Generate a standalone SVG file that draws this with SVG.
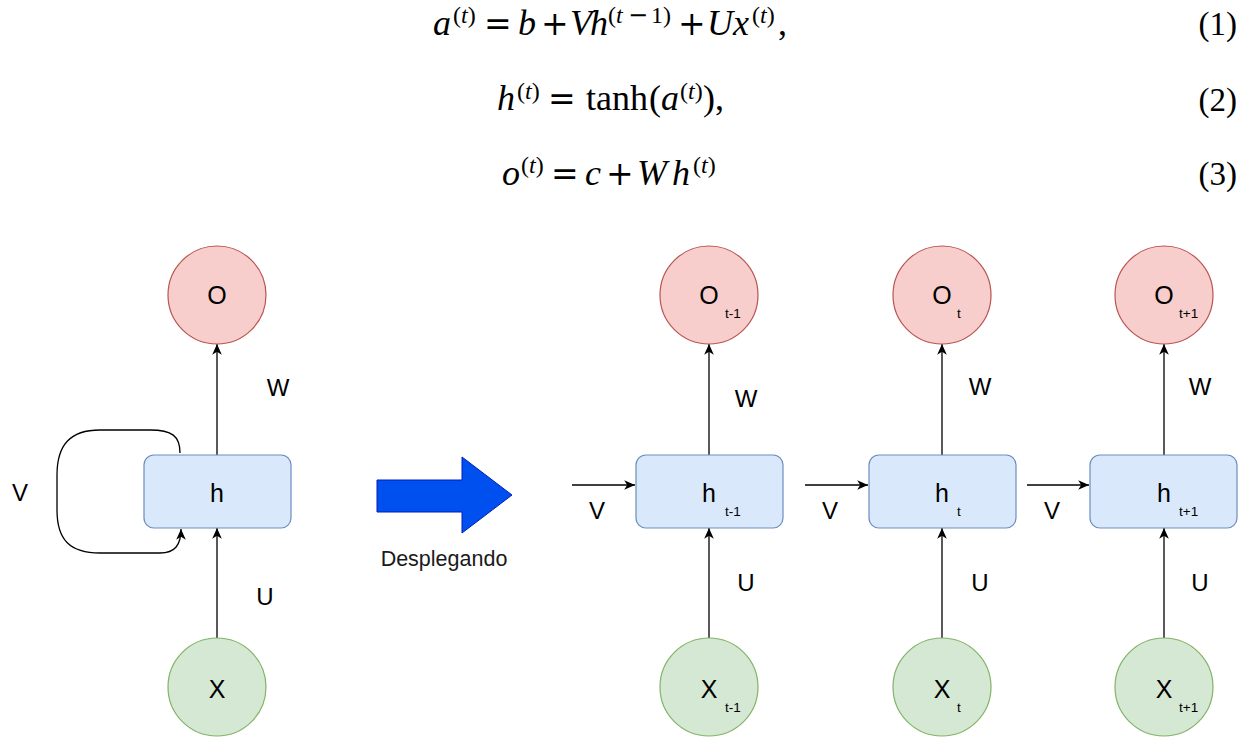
<svg xmlns="http://www.w3.org/2000/svg" width="1238" height="738" viewBox="0 0 1238 738">
<defs>
<style>
.o{fill:#f8cecc;stroke:#b85450;stroke-width:1.2}
.h{fill:#dae8fc;stroke:#6c8ebf;stroke-width:1.2}
.x{fill:#d5e8d4;stroke:#82b366;stroke-width:1.2}
.lbl{font-family:"Liberation Sans",Arial,sans-serif;font-size:25px;fill:#000;text-anchor:middle}
.sub{font-family:"Liberation Sans",Arial,sans-serif;font-size:13.5px;fill:#000}
.el{font-family:"Liberation Sans",Arial,sans-serif;font-size:24px;fill:#000;text-anchor:middle}
.eq{font-family:"Liberation Serif","Times New Roman",serif;font-size:36px;fill:#000}
.op{font-family:"DejaVu Serif","Liberation Serif",serif;font-size:33px;fill:#000}
.num{font-family:"Liberation Serif","Times New Roman",serif;font-size:33px;fill:#000;text-anchor:end}
.sp{font-family:"Liberation Serif","Times New Roman",serif;font-size:24px;fill:#000}
.it{font-style:italic}
.c{fill:none;stroke:#000;stroke-width:1.3}
</style>
<marker id="ah" markerUnits="userSpaceOnUse" markerWidth="12" markerHeight="12" refX="9" refY="5" orient="auto" viewBox="0 0 10 10">
<path d="M0,1 L9,5 L0,9 L2.5,5 Z" fill="#000"/>
</marker>
</defs>

<g id="equations">
<text class="eq it" x="433" y="35">a</text>
<text class="sp" x="453" y="23">(<tspan class="it">t</tspan>)</text>
<text class="op" x="484" y="35">=</text>
<text class="eq it" x="518" y="35">b</text>
<text class="op" x="541" y="35">+</text>
<text class="eq it" x="570" y="35">V</text>
<text class="eq it" x="590" y="35">h</text>
<text class="sp" x="608" y="23">(<tspan class="it">t</tspan></text>
<text class="op" x="628" y="23" style="font-size:24px">−</text>
<text class="sp" x="651" y="23">1)</text>
<text class="op" x="678" y="35">+</text>
<text class="eq it" x="707" y="35">U</text>
<text class="eq it" x="733" y="35">x</text>
<text class="sp" x="752" y="23">(<tspan class="it">t</tspan>)</text>
<text class="eq" x="778" y="35">,</text>

<text class="eq it" x="497" y="110">h</text>
<text class="sp" x="517" y="99">(<tspan class="it">t</tspan>)</text>
<text class="op" x="548" y="110">=</text>
<text class="eq" x="586" y="110">tanh</text>
<text class="eq" x="649" y="110">(</text>
<text class="eq it" x="661" y="110">a</text>
<text class="sp" x="680" y="99">(<tspan class="it">t</tspan>)</text>
<text class="eq" x="703" y="110">),</text>

<text class="eq it" x="502" y="185">o</text>
<text class="sp" x="521" y="173">(<tspan class="it">t</tspan>)</text>
<text class="op" x="551" y="185">=</text>
<text class="eq it" x="585" y="185">c</text>
<text class="op" x="606" y="185">+</text>
<text class="eq it" x="637" y="185">W</text>
<text class="eq it" x="672" y="185">h</text>
<text class="sp" x="693" y="173">(<tspan class="it">t</tspan>)</text>

<text class="num" x="1237" y="35">(1)</text>
<text class="num" x="1237" y="111">(2)</text>
<text class="num" x="1237" y="185">(3)</text>
</g>

<g id="connectors">
<line class="c" x1="217" y1="455" x2="217" y2="344" marker-end="url(#ah)"/>
<line class="c" x1="217" y1="638" x2="217" y2="528" marker-end="url(#ah)"/>
<path class="c" d="M180,453 C180,436 172,430 150,430 L100,430 C70,430 57,445 57,475 L57,510 C57,540 70,553 100,553 L160,553 C175,553 181,545 181,529" marker-end="url(#ah)"/>
<line class="c" x1="709" y1="455" x2="709" y2="344" marker-end="url(#ah)"/>
<line class="c" x1="709" y1="638" x2="709" y2="528" marker-end="url(#ah)"/>
<line class="c" x1="942" y1="455" x2="942" y2="344" marker-end="url(#ah)"/>
<line class="c" x1="942" y1="638" x2="942" y2="528" marker-end="url(#ah)"/>
<line class="c" x1="1164" y1="455" x2="1164" y2="344" marker-end="url(#ah)"/>
<line class="c" x1="1164" y1="638" x2="1164" y2="528" marker-end="url(#ah)"/>
<line class="c" x1="572" y1="485" x2="635" y2="485" marker-end="url(#ah)"/>
<line class="c" x1="805" y1="485" x2="868" y2="485" marker-end="url(#ah)"/>
<line class="c" x1="1027" y1="485" x2="1089" y2="485" marker-end="url(#ah)"/>
<text class="el" x="278" y="396">W</text>
<text class="el" x="265" y="605">U</text>
<text class="el" x="20" y="501">V</text>
<text class="el" x="746" y="407">W</text>
<text class="el" x="746" y="591">U</text>
<text class="el" x="980" y="395">W</text>
<text class="el" x="980" y="591">U</text>
<text class="el" x="1200" y="395">W</text>
<text class="el" x="1200" y="591">U</text>
<text class="el" x="597" y="519">V</text>
<text class="el" x="830" y="519">V</text>
<text class="el" x="1052" y="519">V</text>
</g>

<g id="unfold">
<path d="M377,480 L462,480 L462,457 L512,495 L462,533 L462,512 L377,512 Z" fill="#0050ef" stroke="#001dbc" stroke-width="1"/>
<text x="444" y="566" font-family="Liberation Sans, Arial, sans-serif" font-size="21.5" text-anchor="middle" fill="#1a1a1a">Desplegando</text>
</g>

<g id="O"><circle class="o" cx="217" cy="295" r="49"/><text class="lbl" x="217" y="304">O</text></g>
<g id="h"><rect class="h" x="144" y="455" width="147" height="73" rx="10"/><text class="lbl" x="217" y="502">h</text></g>
<g id="X"><circle class="x" cx="217" cy="687" r="49"/><text class="lbl" x="217" y="698">X</text></g>

<g id="O_t-1"><circle class="o" cx="709" cy="295" r="49"/><text class="lbl" x="709" y="304">O</text><text class="sub" x="725" y="318">t-1</text></g>
<g id="h_t-1"><rect class="h" x="636" y="455" width="147" height="73" rx="10"/><text class="lbl" x="709" y="502">h</text><text class="sub" x="725" y="516">t-1</text></g>
<g id="X_t-1"><circle class="x" cx="709" cy="687" r="49"/><text class="lbl" x="709" y="698">X</text><text class="sub" x="725" y="712">t-1</text></g>

<g id="O_t"><circle class="o" cx="942" cy="295" r="49"/><text class="lbl" x="942" y="304">O</text><text class="sub" x="957" y="318">t</text></g>
<g id="h_t"><rect class="h" x="869" y="455" width="147" height="73" rx="10"/><text class="lbl" x="942" y="502">h</text><text class="sub" x="957" y="516">t</text></g>
<g id="X_t"><circle class="x" cx="942" cy="687" r="49"/><text class="lbl" x="942" y="698">X</text><text class="sub" x="957" y="712">t</text></g>

<g id="O_t+1"><circle class="o" cx="1164" cy="295" r="49"/><text class="lbl" x="1164" y="304">O</text><text class="sub" x="1179" y="318">t+1</text></g>
<g id="h_t+1"><rect class="h" x="1090" y="455" width="147" height="73" rx="10"/><text class="lbl" x="1164" y="502">h</text><text class="sub" x="1179" y="516">t+1</text></g>
<g id="X_t+1"><circle class="x" cx="1164" cy="687" r="49"/><text class="lbl" x="1164" y="698">X</text><text class="sub" x="1179" y="712">t+1</text></g>
</svg>
